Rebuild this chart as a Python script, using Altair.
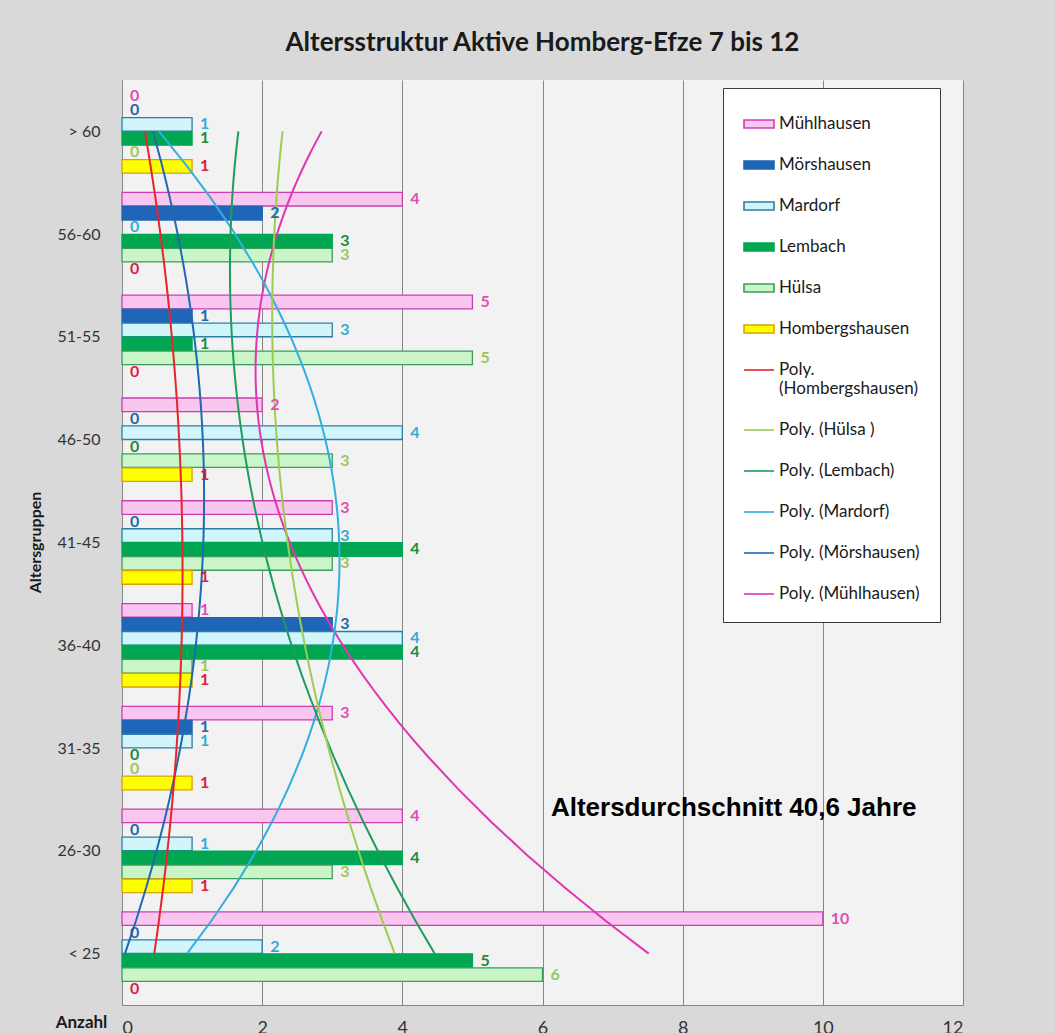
import json

import altair as alt
import pandas as pd

# Age groups, bottom to top (category index 1..9)
groups = ["< 25", "26-30", "31-35", "36-40", "41-45", "46-50", "51-55", "56-60", "> 60"]

# Villages, top to bottom inside each age group
villages = ["Mühlhausen", "Mörshausen", "Mardorf", "Lembach", "Hülsa", "Hombergshausen"]

# Number of active members per age group (same order as groups)
muehlhausen = [10, 4, 3, 1, 3, 2, 5, 4, 0]
moershausen = [0, 0, 1, 3, 0, 0, 1, 2, 0]
mardorf = [2, 1, 1, 4, 3, 4, 3, 0, 1]
lembach = [5, 4, 0, 4, 4, 0, 1, 3, 1]
huelsa = [6, 3, 0, 1, 3, 3, 5, 3, 0]
hombergshausen = [0, 1, 1, 1, 1, 1, 0, 0, 1]
counts = [muehlhausen, moershausen, mardorf, lembach, huelsa, hombergshausen]

# Polynomial trend line names, in legend order
trend_names = ["Poly. (Hombergshausen)", "Poly. (Hülsa )", "Poly. (Lembach)",
               "Poly. (Mardorf)", "Poly. (Mörshausen)", "Poly. (Mühlhausen)"]
trend_of = {
    "Hombergshausen": "Poly. (Hombergshausen)",
    "Hülsa": "Poly. (Hülsa )",
    "Lembach": "Poly. (Lembach)",
    "Mardorf": "Poly. (Mardorf)",
    "Mörshausen": "Poly. (Mörshausen)",
    "Mühlhausen": "Poly. (Mühlhausen)",
}

note_text = "Altersdurchschnitt 40,6 Jahre"
note_x = [6.12]
note_y = [2.42]

# Styling
bar_fill = ["#f9c6ef", "#1f66b8", "#d2f5fa", "#00a651", "#c9f5c9", "#ffff00"]
bar_edge = ["#c93fae", "#1f66b8", "#2b7fa6", "#00a651", "#3d9c5c", "#d9a300"]
label_colors = ["#e04db5", "#2468a8", "#39a9d6", "#1d8c3b", "#9cc65c", "#e0203a"]
trend_colors = ["#e8232b", "#9ccc52", "#1e9c5b", "#33aee0", "#1f69b0", "#e234b4"]

FONT = "Lato"
STEP = 0.136      # distance between neighbouring bars inside a group
HALF = 0.066      # half bar thickness

rows = []
for k, (name, vals) in enumerate(zip(villages, counts)):
    for i, v in enumerate(vals):
        rows.append({"series": name, "trend": trend_of[name], "k": k,
                     "idx": i + 1, "value": v})
df = pd.DataFrame(rows)

legend_names = villages + trend_names

rect_path = "M-1,-0.27H1V0.27H-1Z"
line_path = "M-1,0H1"

legend = alt.Legend(
    title=None,
    orient="none",
    legendX=601,
    legendY=8,
    fillColor="white",
    strokeColor="#3a3a3a",
    padding=20,
    rowPadding=17,
    symbolSize=900,
    symbolStrokeWidth=1.6,
    symbolType=alt.ExprRef(
        expr=f"indexof(datum.value, 'Poly') === 0 ? '{line_path}' : '{rect_path}'"
    ),
    labelFont=FONT,
    labelFontSize=17,
    labelColor="#1a1a1a",
    labelLimit=240,
    labelOffset=4,
    labelExpr="datum.label == 'Poly. (Hombergshausen)' ? ['Poly.', '(Hombergshausen)'] : datum.label",
)

# Shared fill and stroke scales over all twelve legend entries
fill_scale = alt.Scale(domain=legend_names, range=bar_fill + trend_colors)
stroke_scale = alt.Scale(domain=legend_names, range=bar_edge + trend_colors)

x_scale = alt.Scale(domain=[0, 12], nice=False, zero=False)
y_scale = alt.Scale(domain=[0.5, 9.5], nice=False, zero=False)

x_axis = alt.Axis(
    values=[0, 2, 4, 6, 8, 10, 12],
    grid=True,
    gridColor="#868686",
    gridWidth=1,
    ticks=False,
    domainColor="#868686",
    labelFont=FONT,
    labelFontSize=18,
    labelColor="#333333",
    labelPadding=14,
    title="Anzahl",
    titleFont=FONT,
    titleFontSize=17,
    titleFontWeight="bold",
    titleColor="#1a1a1a",
    titleX=-41,
    titleY=17,
    titleAlign="center",
    titleBaseline="middle",
)

y_label_expr = f"{json.dumps(groups)}[datum.value - 1]"
y_axis = alt.Axis(
    values=list(range(1, 10)),
    labelExpr=y_label_expr,
    grid=False,
    ticks=False,
    domainColor="#868686",
    labelFont=FONT,
    labelFontSize=16,
    labelColor="#333333",
    labelPadding=22,
    title="Altersgruppen",
    titleFont=FONT,
    titleFontSize=16,
    titleFontWeight="bold",
    titleColor="#1a1a1a",
    titleAngle=-90,
    titleX=-87,
    titleY=462,
    titleAlign="center",
    titleBaseline="middle",
)

base = alt.Chart(df)

bars = (
    base.transform_filter("datum.value > 0")
    .transform_calculate(pos=f"datum.idx + (2.5 - datum.k) * {STEP}")
    .transform_calculate(lo=f"datum.pos - {HALF}")
    .transform_calculate(hi=f"datum.pos + {HALF}")
    .transform_calculate(x0="0")
    .mark_rect(strokeWidth=1.3)
    .encode(
        x=alt.X("x0:Q", scale=x_scale, axis=x_axis),
        x2="value:Q",
        y=alt.Y("lo:Q", scale=y_scale, axis=y_axis),
        y2="hi:Q",
        fill=alt.Fill("series:N", scale=fill_scale, legend=legend),
        stroke=alt.Stroke("series:N", scale=stroke_scale, legend=legend),
    )
)

trends = (
    base.transform_regression("idx", "value", method="poly", order=2,
                              groupby=["trend"], extent=[1, 9])
    .mark_line(strokeWidth=2)
    .encode(
        x=alt.X("value:Q", scale=x_scale, axis=x_axis),
        y=alt.Y("idx:Q", scale=y_scale, axis=y_axis),
        stroke=alt.Stroke("trend:N", scale=stroke_scale, legend=legend),
        order=alt.Order("idx:Q"),
    )
)

value_labels = (
    base.transform_calculate(pos=f"datum.idx + (2.5 - datum.k) * {STEP}")
    .mark_text(align="left", baseline="middle", dx=8, font=FONT,
               fontWeight="bold", fontSize=16)
    .encode(
        x=alt.X("value:Q", scale=x_scale, axis=x_axis),
        y=alt.Y("pos:Q", scale=y_scale, axis=y_axis),
        text=alt.Text("value:Q"),
        color=alt.Color("series:N", scale=alt.Scale(domain=villages, range=label_colors), legend=None),
    )
)

note = (
    alt.Chart(pd.DataFrame({"text": [note_text], "x": note_x, "y": note_y}))
    .mark_text(align="left", baseline="middle", font="Liberation Sans",
               fontWeight="bold", fontSize=26, color="#000000")
    .encode(
        x=alt.X("x:Q", scale=x_scale, axis=x_axis),
        y=alt.Y("y:Q", scale=y_scale, axis=y_axis),
        text="text:N",
    )
)

chart = (
    alt.layer(bars, trends, value_labels, note)
    .properties(
        width=841,
        height=925,
        background="#d9d9d9",
        padding={"left": 122, "top": 80, "right": 92, "bottom": 28},
        autosize=alt.AutoSizeParams(type="none"),
        title=alt.Title(
            "Altersstruktur Aktive Homberg-Efze 7 bis 12",
            font=FONT,
            fontSize=26,
            fontWeight="bold",
            color="#1a1a1a",
            offset=24,
            anchor="middle",
        ),
    )
    .configure_view(fill="#f2f2f2", stroke=None)
)

chart.save("out.html", embed_options={"renderer": "svg", "actions": False})
